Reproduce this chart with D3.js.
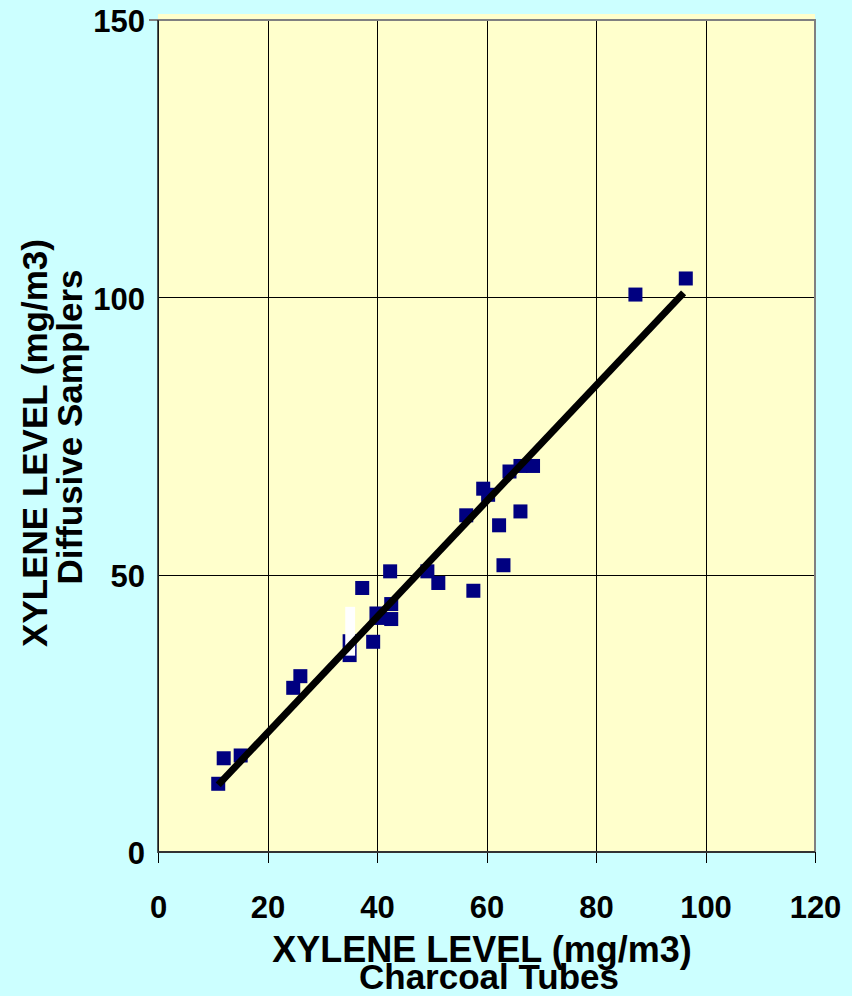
<!DOCTYPE html>
<html>
<head>
<meta charset="utf-8">
<script src="https://cdn.jsdelivr.net/npm/d3@7"></script>
<style>
  html, body { margin: 0; padding: 0; background: #ccffff; }
  svg { display: block; }
  text { font-family: "Liberation Sans", Arial, sans-serif; font-weight: bold; fill: #000; }
</style>
</head>
<body>
<script>
// charcoal tube level (x) vs diffusive sampler level (y), mg/m3
var charcoal = [11.0, 12.0, 15.1, 24.7, 26.0, 35.0, 35.0, 37.3, 39.3, 39.9, 40.2, 42.6, 42.6,
                42.4, 49.2, 51.2, 57.6, 56.3, 59.4, 60.3, 62.3, 63.1, 66.2, 64.2, 66.2, 68.5, 87.2, 96.4];
var diffusive = [12.3, 16.9, 17.4, 29.6, 31.7, 38.0, 35.5, 47.6, 37.9, 43.0, 42.2, 44.7, 42.0,
                 50.6, 50.6, 48.5, 47.1, 60.7, 65.5, 64.4, 58.9, 51.7, 61.4, 68.6, 69.6, 69.6, 100.5, 103.4];

// fitted line end points
var fitX = [11, 96];
var fitY = [12.1, 100.8];

// white bar that sits over one of the points in the original
var whiteBar = {x0: 34.2, x1: 36.0, y0: 35.4, y1: 44.2};

var xTicks = [0, 20, 40, 60, 80, 100, 120];
var yTicks = [0, 50, 100, 150];

var W = 852, H = 996;
var plotLeft = 158, plotRight = 815, plotTop = 20, plotBottom = 852;

var svg = d3.select("body").append("svg")
    .attr("width", W)
    .attr("height", H);

var x = d3.scaleLinear().domain([0, 120]).range([plotLeft, plotRight]);
var y = d3.scaleLinear().domain([0, 150]).range([plotBottom, plotTop]);

// plot area
svg.append("rect")
    .attr("x", plotLeft).attr("y", 14)
    .attr("width", plotRight - plotLeft).attr("height", plotBottom - 14)
    .attr("fill", "#ffffcc");

// vertical grid lines (and ticks below the axis)
var xAxis = svg.append("g")
    .attr("transform", "translate(0," + plotBottom + ")")
    .call(d3.axisBottom(x).tickValues(xTicks).tickSize(11).tickPadding(33).tickSizeOuter(0));
xAxis.select(".domain").remove();
xAxis.selectAll("line").attr("stroke", "#000").attr("y1", -(plotBottom - plotTop))
    .attr("shape-rendering", "crispEdges");
xAxis.selectAll("text").style("font-size", "31px").attr("dy", "0.7em").attr("font-family", null);

// horizontal grid lines
var yAxis = svg.append("g")
    .attr("transform", "translate(" + plotLeft + ",0)")
    .call(d3.axisLeft(y).tickValues(yTicks).tickSize(9).tickPadding(4).tickSizeOuter(0));
yAxis.select(".domain").remove();
yAxis.selectAll("line").attr("stroke", "#000").attr("x2", plotRight - plotLeft)
    .attr("shape-rendering", "crispEdges");
yAxis.selectAll("text").style("font-size", "31px").attr("dy", "0.38em").attr("font-family", null);

// top and right border in grey
svg.append("line")
    .attr("x1", plotLeft - 9).attr("x2", plotRight + 1)
    .attr("y1", y(150)).attr("y2", y(150))
    .attr("stroke", "#808080").attr("stroke-width", 2);
svg.append("line")
    .attr("x1", plotRight).attr("x2", plotRight)
    .attr("y1", y(150)).attr("y2", plotBottom)
    .attr("stroke", "#808080").attr("stroke-width", 2);

// axis lines
svg.append("line")
    .attr("x1", plotLeft).attr("x2", plotLeft)
    .attr("y1", y(150)).attr("y2", plotBottom + 1)
    .attr("stroke", "#222").attr("stroke-width", 1.5);
svg.append("line")
    .attr("x1", plotLeft).attr("x2", plotRight)
    .attr("y1", plotBottom).attr("y2", plotBottom)
    .attr("stroke", "#333").attr("stroke-width", 2);

// points
var pts = charcoal.map(function(d, i) { return {x: d, y: diffusive[i]}; });
svg.selectAll("rect.pt")
    .data(pts)
    .enter().append("rect")
        .attr("class", "pt")
        .attr("x", function(d) { return x(d.x) - 7; })
        .attr("y", function(d) { return y(d.y) - 7; })
        .attr("width", 14)
        .attr("height", 14)
        .attr("fill", "#000080");

svg.append("rect")
    .attr("x", x(whiteBar.x0))
    .attr("y", y(whiteBar.y1))
    .attr("width", x(whiteBar.x1) - x(whiteBar.x0))
    .attr("height", y(whiteBar.y0) - y(whiteBar.y1))
    .attr("fill", "#fff");

// fitted line
var line = d3.line()
    .x(function(d) { return x(d.x); })
    .y(function(d) { return y(d.y); });
svg.append("path")
    .attr("d", line(fitX.map(function(d, i) { return {x: d, y: fitY[i]}; })))
    .attr("stroke", "#000")
    .attr("stroke-width", 7)
    .attr("fill", "none");

// axis titles
svg.append("text")
    .attr("x", 482).attr("y", 962)
    .attr("text-anchor", "middle")
    .style("font-size", "36px")
    .text("XYLENE LEVEL (mg/m3)");
svg.append("text")
    .attr("x", 489).attr("y", 989)
    .attr("text-anchor", "middle")
    .style("font-size", "35px")
    .text("Charcoal Tubes");

svg.append("text")
    .attr("transform", "translate(47,443) rotate(-90)")
    .attr("text-anchor", "middle")
    .style("font-size", "35px")
    .text("XYLENE LEVEL (mg/m3)");
svg.append("text")
    .attr("transform", "translate(82,427) rotate(-90)")
    .attr("text-anchor", "middle")
    .style("font-size", "35px")
    .text("Diffusive Samplers");
</script>
</body>
</html>
